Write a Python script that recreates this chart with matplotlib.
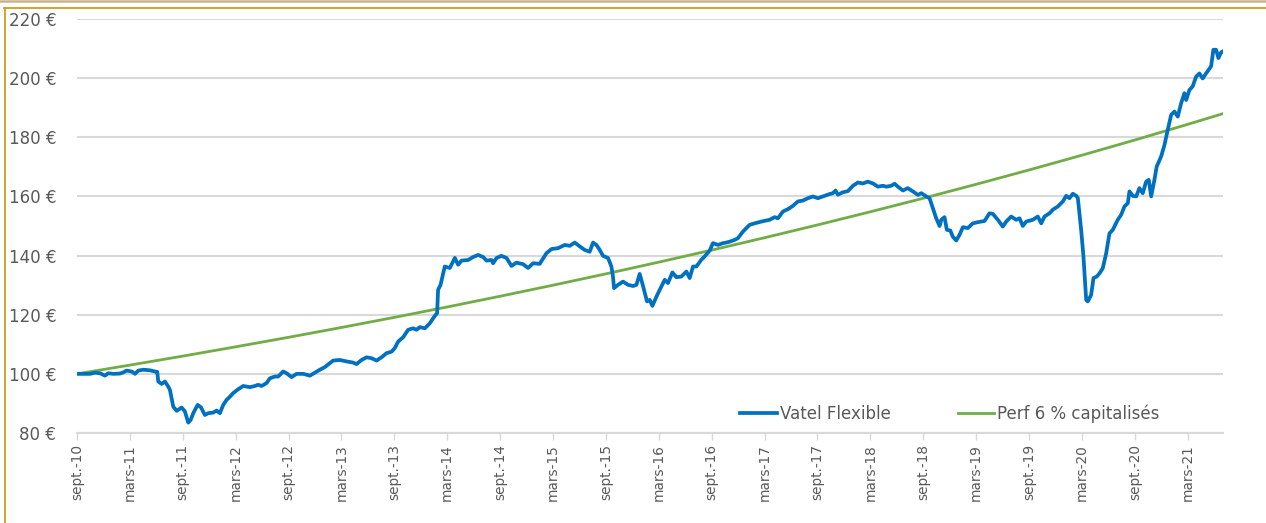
import matplotlib
matplotlib.use("Agg")
import matplotlib.pyplot as plt
from matplotlib.lines import Line2D

# ---- data -------------------------------------------------------------
# x = months since September 2010
tick_labels = ["sept.-10", "mars-11", "sept.-11", "mars-12", "sept.-12", "mars-13",
               "sept.-13", "mars-14", "sept.-14", "mars-15", "sept.-15", "mars-16",
               "sept.-16", "mars-17", "sept.-17", "mars-18", "sept.-18", "mars-19",
               "sept.-19", "mars-20", "sept.-20", "mars-21"]
tick_months = [6 * i for i in range(len(tick_labels))]

vatel_months = [
    0, 1.47, 2.04, 2.61, 3.17, 3.55, 4.12, 4.88, 5.25, 5.63, 6.2, 6.58, 6.95, 7.52, 8.28,
    8.84, 9.1, 9.22, 9.6, 9.98, 10.35, 10.54, 10.92, 11.3, 11.87, 12.24, 12.62, 12.89,
    13.19, 13.68, 14.06, 14.51, 14.89, 15.45, 15.84, 16.21, 16.59, 16.97, 17.35, 17.72,
    18.29, 18.85, 19.61, 20.18, 20.56, 20.94, 21.51, 21.88, 22.45, 22.82, 23.39, 23.78,
    24.34, 24.91, 25.66, 26.04, 26.42, 26.98, 27.55, 28.12, 28.68,
    29.06, 29.82, 30.58, 31.33, 31.71, 32.28, 32.85, 33.41, 33.98, 34.55, 35.11, 35.68,
    36.05, 36.43, 37.0, 37.56, 38.13, 38.51, 38.89, 39.46, 40.02, 40.59, 40.85, 40.96,
    41.24, 41.72, 42.29, 42.86, 43.23, 43.62, 44.37, 44.93, 45.5, 46.07, 46.45, 47.02,
    47.2, 47.59, 48.15, 48.72, 49.29, 49.85, 50.6, 51.17, 51.74, 52.49, 53.25, 53.82,
    54.57, 55.33, 55.9, 56.46, 57.03,
    57.6, 58.16, 58.54, 58.92, 59.3, 59.67, 60.24, 60.62, 60.8, 60.92, 61.37, 61.94,
    62.51, 63.08, 63.46, 63.83, 64.21, 64.66, 64.97, 65.27, 65.73, 66.1, 66.67, 67.04,
    67.54, 67.99, 68.56, 69.13, 69.5, 69.88, 70.26, 70.83, 71.2, 71.77, 72.14, 72.71,
    73.28, 73.66, 74.04, 74.6, 74.98, 75.54, 76.3, 76.87, 77.63, 78.57, 79.14, 79.51,
    80.08, 80.65, 81.21, 81.78, 82.35, 82.91, 83.48, 84.05, 84.61, 85.37,
    85.75, 86.05, 86.31, 86.88, 87.45, 88.02, 88.58, 89.15, 89.72, 90.28, 90.85, 91.42,
    91.8, 92.37, 92.74, 93.12, 93.69, 94.25, 94.82, 95.39, 95.77, 96.34, 96.71, 97.09,
    97.47, 97.85, 98.04, 98.41, 98.67, 99.06, 99.35, 99.74, 100.11, 100.49, 101.05,
    101.62, 102.19, 102.95, 103.51, 103.89, 104.46, 105.02, 105.41, 105.97, 106.54,
    106.92, 107.29, 107.67, 108.42, 108.99, 109.38, 109.75, 110.32, 110.69, 111.26,
    111.83, 112.21, 112.59, 112.96, 113.35, 113.53,
    113.91, 114.17, 114.48, 114.66, 115.04, 115.31, 115.68, 115.99, 116.36, 116.75,
    117.12, 117.5, 118.06, 118.45, 118.82, 119.2, 119.39, 119.76, 120.15, 120.52, 120.9,
    121.28, 121.58, 121.85, 122.22, 122.48, 122.98, 123.36, 123.73, 124.12, 124.49,
    124.87, 125.25, 125.62, 125.82, 126.19, 126.56, 126.95, 127.32, 127.7, 128.08,
    128.65, 128.91, 129.22, 129.48, 129.78, 129.96]

vatel_values = [
    100, 100, 100.4, 100.2, 99.4, 100.2, 100, 100.1, 100.5, 101.1, 100.8, 100, 101.1,
    101.4, 101.2, 100.8, 100.7, 97.4, 96.6, 97.4, 95.7, 94.6, 88.9, 87.5, 88.6, 87.3,
    83.5, 84.4, 86.7, 89.5, 88.7, 86.1, 86.7, 86.9, 87.6, 86.7, 89.5, 91.2, 92.3, 93.5,
    94.8, 95.9, 95.5, 95.9, 96.3, 95.9, 96.9, 98.5, 99.1, 99.1, 100.8, 100.2, 98.9, 100,
    100, 99.7, 99.4, 100.4, 101.4, 102.3, 103.6,
    104.5, 104.7, 104.2, 103.8, 103.3, 104.7, 105.6, 105.3, 104.5, 105.6, 107, 107.5,
    108.7, 110.9, 112.4, 114.9, 115.4, 114.9, 115.8, 115.4, 117.1, 119.6, 120.5, 128.4,
    130.1, 136.3, 135.8, 139.2, 136.9, 138.3, 138.5, 139.5, 140.2, 139.5, 138.3, 138.5,
    137.4, 139.2, 139.9, 139.2, 136.5, 137.6, 137.1, 135.8, 137.4, 137.2, 140.8, 142.2,
    142.5, 143.6, 143.3, 144.4, 143.1,
    141.9, 141.3, 144.4, 143.6, 141.9, 139.9, 139.2, 136.3, 132.9, 129, 130.1, 131.2,
    130.1, 129.7, 130.1, 133.8, 129.7, 124.5, 125, 123, 126.1, 128.4, 131.8, 130.7,
    134.3, 132.7, 132.9, 134.6, 132.4, 136.3, 136.3, 138.6, 139.7, 141.7, 144.2, 143.6,
    144.2, 144.4, 144.7, 145.3, 145.9, 148.1, 150.4, 150.9, 151.5, 152.1, 153, 152.6,
    154.9, 155.7, 156.8, 158.3, 158.6, 159.4, 160, 159.4, 160, 160.8,
    161.1, 162, 160.6, 161.4, 161.8, 163.6, 164.7, 164.4, 165, 164.4, 163.3, 163.6,
    163.3, 163.6, 164.3, 163.3, 162, 162.8, 161.7, 160.5, 161.1, 160, 159.4, 156,
    152.6, 150, 152.1, 153, 148.7, 148.5, 146.4, 145.1, 147, 149.6, 149.3,
    150.9, 151.3, 151.7, 154.3, 154.1, 152.1, 149.8, 151.5, 153.2, 152.1,
    152.6, 150, 151.5, 152.1, 153.2, 150.9, 153.2, 154.3, 155.5, 156.6,
    158.3, 160.2, 159.4, 160.9, 160.2, 159.5,
    148.7, 139.7, 125, 124.5, 126.7, 132.4, 132.9, 134, 135.7, 140.8,
    147.5, 148.7, 152.1, 153.8, 156.6, 157.7, 161.7, 160.2, 160, 162.8, 161.1,
    165, 165.6, 160, 165.6, 170.1, 173.5, 177.4, 182.5, 187.6, 188.7,
    187, 191.5, 194.9, 192.6, 196, 197.2, 200.5, 201.6, 199.9, 201.6,
    204, 209.6, 209.6, 206.8, 208.7, 209]

perf_months = [0, 6, 12, 18, 24, 30, 36, 42, 48, 54, 60, 66, 72, 78, 84, 90, 96,
               102, 108, 114, 120, 126, 130]
perf_values = [100, 102.96, 106.0, 109.14, 112.36, 115.68, 119.1, 122.62, 126.25,
               129.98, 133.82, 137.78, 141.85, 146.04, 150.36, 154.81, 159.38, 164.1,
               168.95, 173.94, 179.08, 184.38, 188.0]

y_ticks = [80, 100, 120, 140, 160, 180, 200, 220]

# ---- figure -----------------------------------------------------------
W, H = 1266, 523
fig = plt.figure(figsize=(W / 100, H / 100), dpi=100)
fig.patch.set_facecolor("white")

L, R, T, B = 77, 1223, 19, 433
ax = fig.add_axes([L / W, 1 - B / H, (R - L) / W, (B - T) / H])

grid_c = "#d9d9d9"
text_c = "#595959"

ax.plot(vatel_months, vatel_values, color="#0070C0", lw=2.7,
        solid_joinstyle="round", label="Vatel Flexible", zorder=3)
ax.plot(perf_months, perf_values, color="#70AD47", lw=2.0,
        label="Perf 6 % capitalisés", zorder=2)

ax.set_xlim(0, 130)
ax.set_ylim(80, 220)
ax.set_yticks(y_ticks)
ax.set_yticklabels([f"{v} €" for v in y_ticks], fontsize=12, color=text_c,
                   family="DejaVu Sans")
ax.set_xticks(tick_months)
ax.set_xticklabels(tick_labels, rotation=90, fontsize=9.8, color=text_c,
                   family="DejaVu Sans")

ax.tick_params(axis="y", length=0, pad=15)
ax.tick_params(axis="x", length=5, width=1, color=grid_c, pad=3, direction="out")

ax.grid(axis="y", color=grid_c, lw=1.5)
ax.set_axisbelow(True)
for s in ["top", "right", "left"]:
    ax.spines[s].set_visible(False)
ax.spines["bottom"].set_color(grid_c)
ax.spines["bottom"].set_linewidth(1.5)

ax.legend(loc="center", bbox_to_anchor=((950 - L) / (R - L), (B - 414) / (B - T)),
          ncol=2, frameon=False, fontsize=12, handlelength=2.2, handletextpad=0.18,
          columnspacing=4.0, labelcolor=text_c)

# frame decorations
gold = "#CC9E1E"
fig.add_artist(Line2D([4.5 / W, 4.5 / W], [0, 1 - 8 / H], color=gold, lw=1.3,
                      transform=fig.transFigure))
fig.add_artist(Line2D([4 / W, 1], [1 - 8 / H, 1 - 8 / H], color=gold, lw=1.3,
                      transform=fig.transFigure))
fig.add_artist(Line2D([0, 1], [1 - 1.2 / H, 1 - 1.2 / H], color="#c8b48c", lw=1.8,
                      transform=fig.transFigure))

fig.savefig("out.png", dpi=100)
